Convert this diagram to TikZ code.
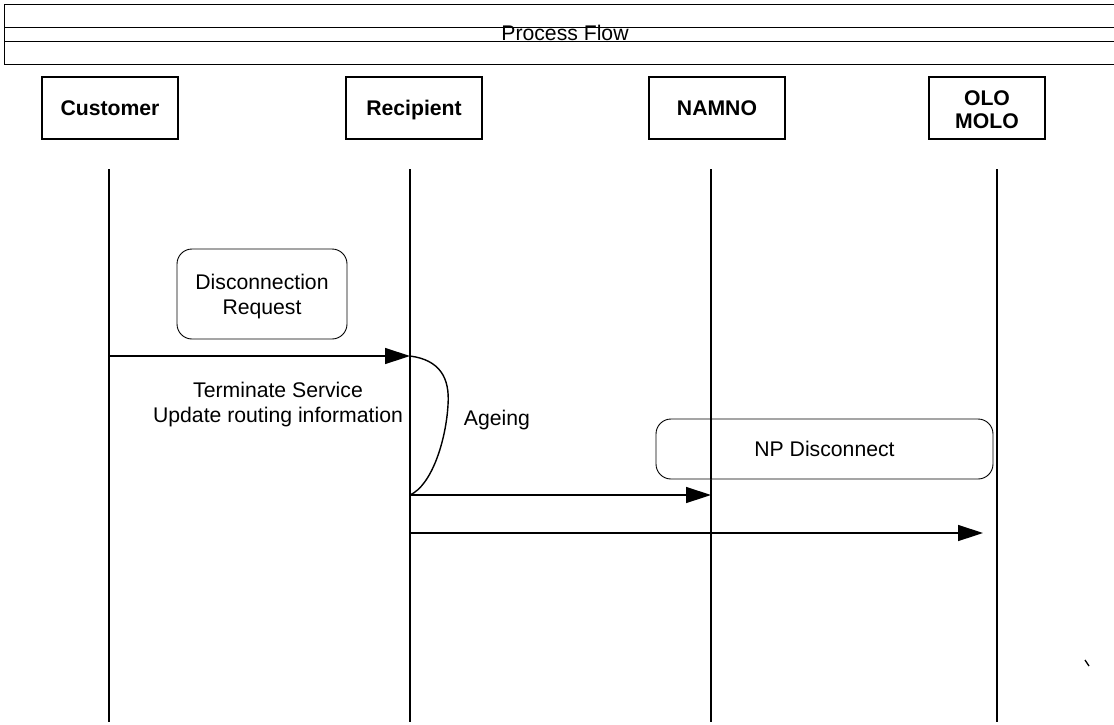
\documentclass[tikz,border=0pt]{standalone}
\usepackage{fontspec}
\setmainfont{Liberation Sans}
\usetikzlibrary{arrows.meta}
\begin{document}
\begin{tikzpicture}[x=1pt,y=-1pt,
  actor/.style={draw, line width=1.6pt, minimum height=62pt, inner sep=0pt,
    font=\fontsize{21.2}{23}\selectfont\bfseries, align=center},
  note/.style={draw, rounded corners=15pt, line width=0.9pt, inner sep=0pt,
    font=\fontsize{21.2}{25.5}\selectfont, align=center},
  life/.style={line width=1.5pt},
  msg/.style={line width=1.4pt, -{Triangle[length=25pt,width=16pt]}},
  lbl/.style={font=\fontsize{21.2}{25}\selectfont, align=center, inner sep=0pt},
  hdr/.style={line width=1pt}]
\useasboundingbox (0,0) rectangle (1114,724);
% header
\draw[hdr] (1114,4) -- (4,4) -- (4,64) -- (1114,64);
\draw[hdr] (4,27) -- (1114,27);
\draw[hdr] (4,41) -- (1114,41);
\node[lbl, anchor=base] (title) at (565,40.5) {Process Flow};
% actors
\node[actor, minimum width=136pt] (cust) at (110,108) {Customer};
\node[actor, minimum width=136pt, text depth=0pt] (reci) at (414,108) {Recipient};
\node[actor, minimum width=136pt] (namno) at (717,108) {NAMNO};
\node[actor, minimum width=116pt] (olo) at (987,108) {};
\node[font=\fontsize{21.2}{23}\selectfont\bfseries, align=center, inner sep=0pt] (olotext) at (987,110) {OLO\\MOLO};
% lifelines
\coordinate (c1) at (109,169); \coordinate (c2) at (109,722);
\coordinate (r1) at (410,169); \coordinate (r2) at (410,722);
\coordinate (n1) at (711,169); \coordinate (n2) at (711,722);
\coordinate (o1) at (997,169); \coordinate (o2) at (997,722);
\draw[life] (c1) -- (c2);
\draw[life] (r1) -- (r2);
\draw[life] (n1) -- (n2);
\draw[life] (o1) -- (o2);
% notes
\node[note, minimum width=170pt, minimum height=90pt] (req) at (262,294) {};
\node[lbl] (reqtext) at (262,297) {Disconnection\\Request};
\node[note, minimum width=337pt, minimum height=60pt, fill=white] (npd) at (824.5,449) {NP Disconnect};
\draw[life] (711,419) -- (711,479);
% messages
\coordinate (m1a) at (109,356); \coordinate (m1b) at (410,356);
\coordinate (m2a) at (410,495); \coordinate (m2b) at (711,495);
\coordinate (m3a) at (410,533); \coordinate (m3b) at (983,533);
\draw[msg] (m1a) -- (m1b);
\draw[msg] (m2a) -- (m2b);
\draw[msg] (m3a) -- (m3b);
% ageing loop
\draw[line width=1.4pt] (m1b) .. controls (440,360) and (450,378) .. (448,405)
  .. controls (446,440) and (432,485) .. (m2a);
% labels
\node[lbl] (term) at (278,405) {Terminate Service\\Update routing information};
\node[lbl] (age) at (497,420) {Ageing};
% stray mark
\draw[line width=1.3pt] (1085,660) -- (1089,666);
\end{tikzpicture}
\end{document}
